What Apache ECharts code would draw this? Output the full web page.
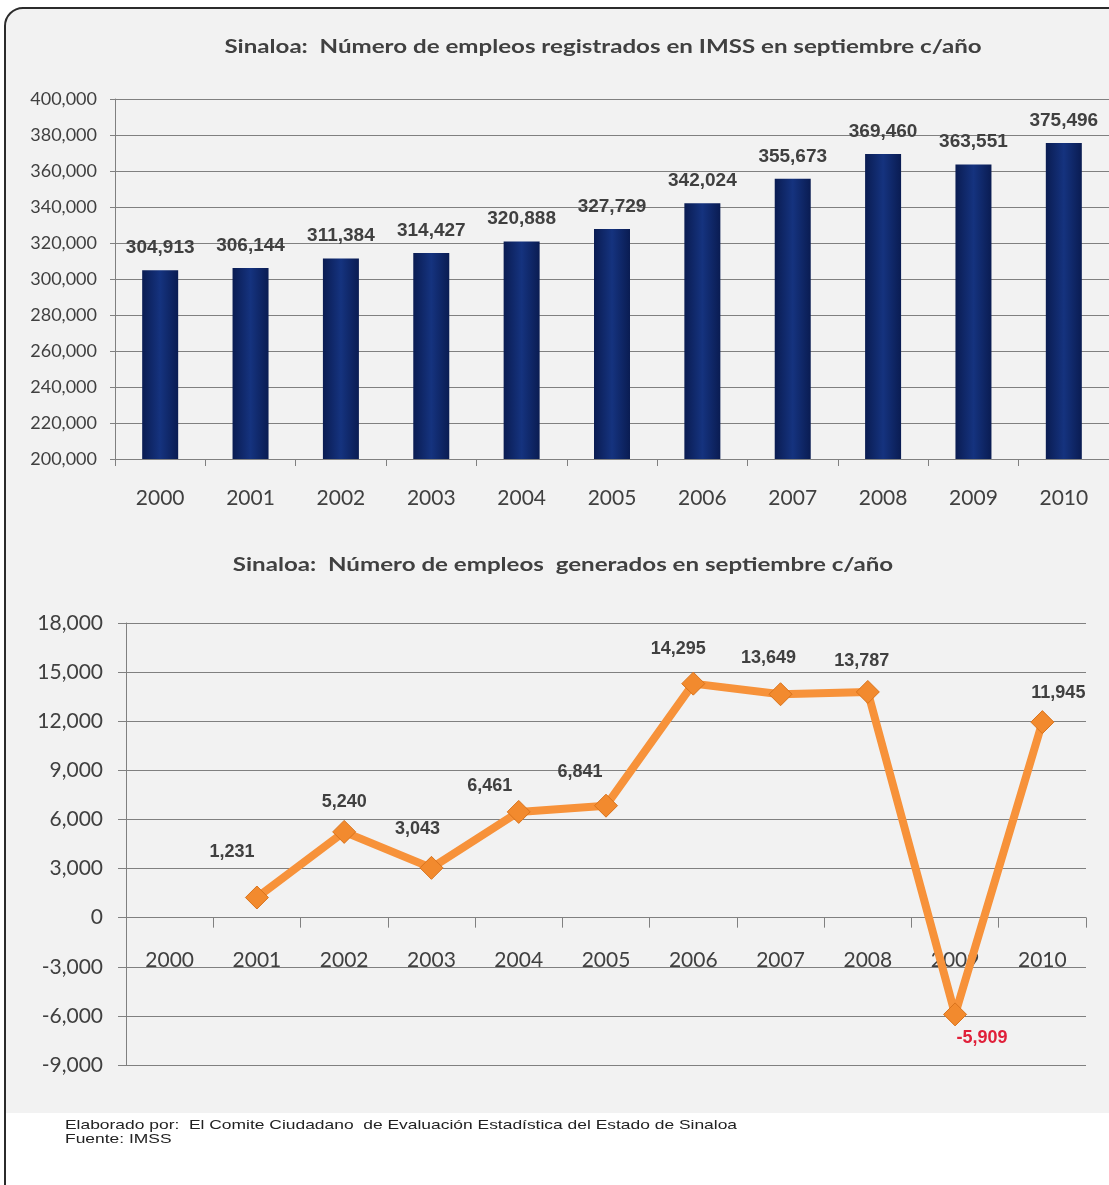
<!DOCTYPE html>
<html><head><meta charset="utf-8">
<script src="https://cdn.jsdelivr.net/npm/echarts@6/dist/echarts.min.js"></script>
<style>html,body{margin:0;padding:0;background:#fff;}#c{width:1109px;height:1185px;}</style>
</head><body><div id="c"></div>
<script>
const years = ['2000','2001','2002','2003','2004','2005','2006','2007','2008','2009','2010'];
const registrados = [304913, 306144, 311384, 314427, 320888, 327729, 342024, 355673, 369460, 363551, 375496];
const generados = [null, 1231, 5240, 3043, 6461, 6841, 14295, 13649, 13787, -5909, 11945];
const title1 = 'Sinaloa:  Número de empleos registrados en IMSS en septiembre c/año';
const title2 = 'Sinaloa:  Número de empleos  generados en septiembre c/año';
const footer = ['Elaborado por:  El Comite Ciudadano  de Evaluación Estadística del Estado de Sinaloa', 'Fuente: IMSS'];

const fmt = v => Number(v).toLocaleString('en-US');
const txt = '#404040';
const grid = '#808080';
const lblOffsets = [null,[-25,-19],[0,-4],[-14,-13],[-29,0],[-26,-8],[-15,-9],[-12,-10],[-6,-5],[27,-2],[16,-3]];
const SX = 1.34;

const chart = echarts.init(document.getElementById('c'), null, {renderer:'canvas'});
chart.setOption({
  animation:false,
  backgroundColor:'#ffffff',
  graphic:[
    {type:'rect', z:-10, silent:true, shape:{x:5,y:8,width:1130,height:1200,r:18}, style:{fill:'#f2f2f2',stroke:'#2b2b2b',lineWidth:2}},
    {type:'rect', z:-9, silent:true, shape:{x:6,y:1113,width:1110,height:80}, style:{fill:'#ffffff'}},
    {type:'text', x:603, y:47, scaleX:SX, silent:true, style:{text:title1, font:'bold 18px Lato', fill:txt, textAlign:'center', textVerticalAlign:'middle'}},
    {type:'text', x:563, y:565, scaleX:SX, silent:true, style:{text:title2, font:'bold 18px Lato', fill:txt, textAlign:'center', textVerticalAlign:'middle'}},
    {type:'text', x:65, y:1125, scaleX:SX, silent:true, style:{text:footer[0], font:'13px "Liberation Sans", Arial, sans-serif', fill:'#222', textVerticalAlign:'middle'}},
    {type:'text', x:65, y:1139, scaleX:SX, silent:true, style:{text:footer[1], font:'13px "Liberation Sans", Arial, sans-serif', fill:'#222', textVerticalAlign:'middle'}}
  ],
  grid:[
    {left:115, right:0, top:99, bottom:726, containLabel:false},
    {left:126, right:23, top:623, bottom:120, containLabel:false}
  ],
  xAxis:[
    {type:'category', gridIndex:0, data:years,
      axisLine:{lineStyle:{color:grid,width:1}},
      axisTick:{show:true, length:7, lineStyle:{color:grid}},
      axisLabel:{color:txt, fontFamily:'Lato', fontSize:21, margin:29}},
    {type:'category', gridIndex:1, data:years,
      axisLine:{onZero:true, lineStyle:{color:grid,width:1}},
      axisTick:{show:true, length:10, lineStyle:{color:grid}},
      axisLabel:{color:txt, fontFamily:'Lato', fontSize:21, margin:-115}}
  ],
  yAxis:[
    {type:'value', gridIndex:0, min:200000, max:400000, interval:20000,
      axisLine:{show:true, lineStyle:{color:grid}},
      axisTick:{show:true, length:5, lineStyle:{color:grid}},
      splitLine:{lineStyle:{color:grid, width:1.2}},
      axisLabel:{color:txt, fontFamily:'Lato', fontSize:18, margin:18, formatter:fmt}},
    {type:'value', gridIndex:1, min:-9000, max:18000, interval:3000,
      axisLine:{show:true, lineStyle:{color:grid}},
      axisTick:{show:true, length:8, lineStyle:{color:grid}},
      splitLine:{lineStyle:{color:grid, width:1.2}},
      axisLabel:{color:txt, fontFamily:'Lato', fontSize:21, margin:23, formatter:fmt}}
  ],
  series:[
    {type:'bar', xAxisIndex:0, yAxisIndex:0, data:registrados, barWidth:36,
      itemStyle:{color:new echarts.graphic.LinearGradient(0,0,1,0,[
        {offset:0,color:'#0a1c52'},{offset:0.5,color:'#15337f'},{offset:1,color:'#0a1c52'}])},
      label:{show:true, position:'top', distance:13, color:txt, fontFamily:'"Liberation Sans", Arial, sans-serif', fontWeight:'bold', fontSize:19, formatter:p=>fmt(p.value)}},
    {type:'line', xAxisIndex:1, yAxisIndex:1,
      data:generados.map((v,i)=>{
        if(v===null) return null;
        const neg = v<0;
        return {value:v, label:{position: neg?'bottom':'top', offset:lblOffsets[i], color: neg?'#e0203a':txt}};
      }),
      symbol:'diamond', symbolSize:23, showSymbol:true,
      lineStyle:{color:'#f7923a', width:8},
      itemStyle:{color:'#f28a2e', borderColor:'#d9731c', borderWidth:1},
      label:{show:true, distance:5, fontFamily:'"Liberation Sans", Arial, sans-serif', fontWeight:'bold', fontSize:18, formatter:p=>fmt(p.value)}}
  ]
});
</script></body></html>
